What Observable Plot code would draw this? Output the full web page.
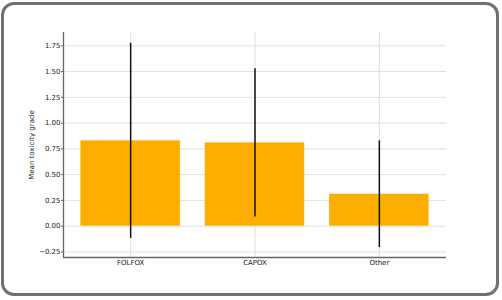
<!DOCTYPE html>
<html>
<head>
<meta charset="utf-8">
<script src="https://cdn.jsdelivr.net/npm/d3@7"></script>
<script src="https://cdn.jsdelivr.net/npm/@observablehq/plot@0.6"></script>
<style>
  html, body { margin: 0; padding: 0; background: #fff; }
  #wrap { position: relative; width: 502px; height: 300px; overflow: hidden; background: #fff; }
  #border { position: absolute; left: 1px; top: 2px; width: 492px; height: 288px;
            border: 3px solid #707070; border-radius: 13px; box-sizing: content-box; }
  #chart { position: absolute; left: 0; top: 0; }
</style>
</head>
<body>
<div id="wrap"><div id="border"></div><div id="chart"></div></div>
<script>
// Data
const categories = ["FOLFOX", "CAPOX", "Other"];
const meanVals = [0.828, 0.808, 0.310];
const errVals = [0.947, 0.720, 0.518];
const yTicks = [-0.25, 0, 0.25, 0.5, 0.75, 1.0, 1.25, 1.5, 1.75];
const yLabel = "Mean toxicity grade";

const barWidth = 0.8;
const rows = categories.map((c, i) => ({
  i, cat: c, mean: meanVals[i], err: errVals[i],
  lo: meanVals[i] - errVals[i], hi: meanVals[i] + errVals[i]
}));

const xDomain = [-0.54, 2.54];
const yDomain = [-0.304, 1.879];
const txt = "#222";

const chart = Plot.plot({
  width: 502,
  height: 300,
  marginLeft: 63,
  marginRight: 56,
  marginTop: 32,
  marginBottom: 43,
  style: { fontFamily: "DejaVu Sans", fontSize: "7px", color: txt, background: "transparent" },
  x: { type: "linear", domain: xDomain },
  y: { domain: yDomain },
  marks: [
    Plot.gridY(yTicks, { stroke: "#d8d8d8", strokeOpacity: 1, strokeWidth: 0.8 }),
    Plot.gridX(rows.map(d => d.i), { stroke: "#d8d8d8", strokeOpacity: 1, strokeWidth: 0.8 }),
    Plot.rectY(rows, { x1: d => d.i - barWidth / 2, x2: d => d.i + barWidth / 2, y1: 0, y2: "mean", fill: "#FDAE00" }),
    Plot.ruleX(rows, { x: "i", y1: "lo", y2: "hi", stroke: "#111", strokeWidth: 1.5 }),
    Plot.ruleY([yDomain[0]], { stroke: "#666", strokeWidth: 1.3 }),
    Plot.ruleX([xDomain[0]], { stroke: "#666", strokeWidth: 1.3 }),
    Plot.axisY({ ticks: yTicks, tickFormat: d3.format(".2f"), tickSize: 2, tickPadding: 1,
      stroke: "#666", label: yLabel, labelAnchor: "center", labelArrow: "none", labelOffset: 34, fill: txt }),
    Plot.axisX({ ticks: rows.map(d => d.i), tickFormat: i => categories[i], tickSize: 0, tickPadding: 3,
      label: null, fill: txt })
  ]
});
document.getElementById("chart").appendChild(chart);
</script>
</body>
</html>
